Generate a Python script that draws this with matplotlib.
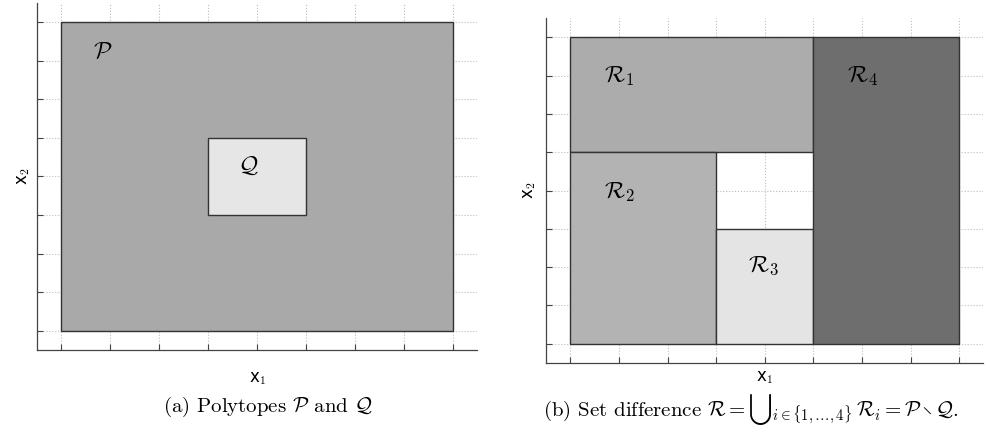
import matplotlib.pyplot as plt
from matplotlib.patches import Rectangle

plt.rcParams['mathtext.fontset'] = 'cm'

# boxes as (x_min, x_max, y_min, y_max)
box_P = (-4, 4, -4, 4)
box_Q = (-1, 1, -1, 1)
color_P = '#a9a9a9'
color_Q = '#e6e6e6'

# pieces of P \ Q
region_names = [r'$\mathcal{R}_1$', r'$\mathcal{R}_2$', r'$\mathcal{R}_3$', r'$\mathcal{R}_4$']
region_boxes = [(-4, 1, 1, 4), (-4, -1, -4, 1), (-1, 1, -4, -1), (1, 4, -4, 4)]
region_colors = ['#acacac', '#b3b3b3', '#e4e4e4', '#6e6e6e']
region_label_pos = [(-3.3, 3.0), (-3.3, -0.05), (-0.35, -1.95), (1.7, 3.0)]

ticks = list(range(-4, 5))


def add_box(ax, box, color):
    x0, x1, y0, y1 = box
    ax.add_patch(Rectangle((x0, y0), x1 - x0, y1 - y0, facecolor=color,
                           edgecolor='#333333', linewidth=1.0, zorder=2))


def setup_axes(ax, xpad, ypad):
    ax.set_xlim(-4.5, 4.5)
    ax.set_ylim(-4.5, 4.5)
    ax.set_xticks(ticks)
    ax.set_yticks(ticks)
    ax.set_xticklabels([])
    ax.set_yticklabels([])
    ax.tick_params(direction='in', length=4, width=0.8, color='#444444')
    ax.grid(True, linestyle=':', color='#bbbbbb', linewidth=0.8)
    ax.set_axisbelow(True)
    for side in ['top', 'right']:
        ax.spines[side].set_visible(False)
    for side in ['left', 'bottom']:
        ax.spines[side].set_color('#444444')
        ax.spines[side].set_linewidth(0.9)
    ax.set_xlabel(r'x$_1$', fontsize=12, family='DejaVu Sans', labelpad=xpad)
    ax.set_ylabel(r'x$_2$', fontsize=12, family='DejaVu Sans', labelpad=ypad)


fig = plt.figure(figsize=(9.92, 4.33), dpi=100)
ax1 = fig.add_axes([0.0373, 0.192, 0.444, 0.801])
ax2 = fig.add_axes([0.5504, 0.162, 0.441, 0.796])

# (a) P and Q
setup_axes(ax1, 10, 0)
add_box(ax1, box_P, color_P)
add_box(ax1, box_Q, color_Q)
ax1.text(-3.35, 3.25, r'$\mathcal{P}$', fontsize=17, va='center', zorder=3)
ax1.text(-0.4, 0.3, r'$\mathcal{Q}$', fontsize=17, va='center', zorder=3)

# (b) set difference
setup_axes(ax2, 0, 2)
for box, c, name, pos in zip(region_boxes, region_colors, region_names, region_label_pos):
    add_box(ax2, box, c)
    ax2.text(pos[0], pos[1], name, fontsize=17, va='center', zorder=3)

fig.text(0.27, 0.06, r'(a) Polytopes $\mathcal{P}$ and $\mathcal{Q}$',
         ha='center', va='center', fontsize=15, family='cmr10')
fig.text(0.757, 0.055,
         r'(b) Set difference $\mathcal{R} = {\bigcup}_{i\in\{1,\ldots,4\}}\,\mathcal{R}_i = \mathcal{P}\setminus\mathcal{Q}$.',
         ha='center', va='center', fontsize=15, family='cmr10')

fig.savefig('out.png', dpi=100)
